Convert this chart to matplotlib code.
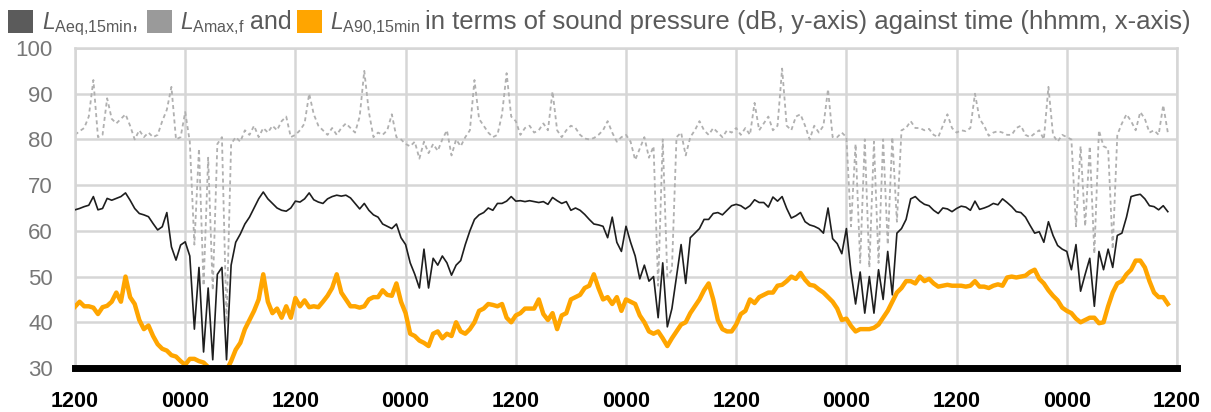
import numpy as np
import matplotlib
matplotlib.use("Agg")
import matplotlib.pyplot as plt
from matplotlib.patches import Rectangle

plt.rcParams['font.family'] = ['Liberation Sans', 'DejaVu Sans']
plt.rcParams['mathtext.fontset'] = 'custom'
plt.rcParams['mathtext.rm'] = 'Liberation Sans'
plt.rcParams['mathtext.it'] = 'Liberation Sans:italic'
plt.rcParams['mathtext.bf'] = 'Liberation Sans:bold'

# Half-hourly readings starting at 1200 (dB)
laeq = [64.6, 64.9, 65.3, 65.6, 67.5, 64.6, 64.9, 67.1, 66.7, 67.1, 67.5, 68.3, 66.7, 64.9, 63.8, 63.5, 63.1, 61.6, 60.2, 60.9, 64.0, 56.5, 53.6, 56.9, 57.6,
        54.5, 38.5, 52.0, 33.5, 47.5, 31.8, 50.5, 52.0, 31.8, 52.5, 57.5, 59.3, 61.5, 63.0, 65.0, 67.0, 68.5, 67.0, 66.0, 65.0, 64.5, 64.3, 65.0, 66.5,
        66.3, 67.0, 68.3, 66.8, 66.3, 66.0, 67.0, 67.5, 67.8, 67.6,
        67.8, 67.2, 66.0, 64.8, 66.0, 64.5, 63.5, 63.0, 61.5, 61.0,
        60.5, 61.5, 58.5, 57.0, 53.0, 50.5, 47.5, 56.0, 47.5, 54.0,
        52.5, 54.5, 53.0, 50.3, 52.5, 53.5, 57.0, 60.0, 62.5, 63.5,
        64.0, 65.0, 64.5, 66.0, 66.0, 66.5, 67.5, 66.5,
        66.6, 66.4, 66.6, 66.4, 66.2, 66.4, 65.8, 67.3, 66.6, 66.0,
        66.4, 64.5, 65.0, 64.5, 63.6, 62.5, 61.5, 61.3, 61.0, 58.5,
        63.0, 57.5, 55.5, 61.0, 57.5, 54.5, 49.5, 52.5, 49.0, 50.0,
        41.0, 53.0, 39.0, 43.0, 50.0, 57.0, 48.5, 58.5, 59.5, 60.5,
        62.5, 62.5, 63.8, 64.0, 63.5, 64.5, 65.5, 65.8,
        65.5, 64.8, 65.5, 66.8, 66.2, 66.2, 65.2, 67.4, 66.5, 67.5,
        64.9, 62.8, 63.3, 64.0, 62.0, 61.3, 61.0, 60.5, 59.5, 65.0,
        58.3, 57.2, 55.0, 60.5, 51.0, 44.0, 51.0, 42.0, 50.0, 42.0,
        51.5, 45.0, 55.5, 46.0, 59.5, 60.5, 62.5, 67.0, 67.5, 66.5,
        65.8, 65.5, 64.5, 63.8, 65.0, 64.8, 64.2, 64.9,
        65.4, 65.2, 64.5, 66.5, 64.7, 65.0, 65.4, 66.0, 65.7, 67.0,
        66.2, 65.3, 64.2, 64.0, 63.0, 61.2, 59.5, 59.8, 57.5, 62.0,
        59.0, 56.8, 56.0, 55.5, 51.5, 57.0, 46.8, 50.5, 54.0, 43.5,
        55.5, 51.5, 56.0, 52.0, 59.0, 59.5, 63.0, 67.5, 67.8, 68.0,
        67.0, 65.5, 65.3, 64.6, 65.5, 64.2]

lamax = [81.0, 81.8, 82.5, 85.0, 93.0, 80.5, 81.0, 89.0, 84.5, 83.5, 84.5, 85.5, 83.0, 80.0, 82.0, 80.5, 81.5, 80.5, 81.0, 84.0, 86.5, 91.5, 80.0, 80.5, 86.0,
         79.5, 57.0, 78.0, 48.0, 76.0, 47.0, 79.0, 80.5, 40.0, 79.0, 80.5, 79.5, 82.0, 81.0, 83.0, 80.5, 82.5, 81.5, 83.0, 82.0, 84.0, 85.0, 80.5, 81.0,
         82.0, 83.5, 90.0, 85.5, 83.0, 82.0, 81.0, 82.5, 81.0, 82.5,
         83.5, 82.5, 81.5, 85.0, 95.0, 86.0, 80.5, 81.5, 81.0, 82.0,
         85.5, 80.5, 80.0, 79.0, 78.5, 79.5, 75.8, 79.5, 77.0, 79.0,
         77.5, 80.0, 82.0, 76.5, 80.0, 78.5, 80.5, 82.0, 93.0, 84.5,
         83.0, 81.5, 80.5, 81.0, 85.5, 94.5, 85.0, 84.0,
         81.0, 82.5, 83.0, 81.5, 82.0, 83.5, 82.0, 90.5, 82.0, 80.5,
         82.0, 83.0, 82.5, 81.0, 80.2, 80.0, 80.3, 81.0, 82.0, 84.0,
         81.5, 79.5, 80.5, 81.0, 79.5, 75.5, 78.0, 80.5, 76.0, 78.5,
         48.0, 80.0, 50.0, 51.5, 80.5, 81.5, 76.5, 80.5, 82.0, 84.0,
         82.0, 81.0, 82.5, 81.5, 80.5, 82.0, 81.5, 82.5,
         81.0, 82.5, 81.0, 88.0, 82.0, 83.5, 85.0, 82.0, 83.0, 95.5,
         83.0, 82.0, 85.0, 85.5, 83.0, 80.0, 83.0, 81.5, 83.0, 91.0,
         80.5, 80.5, 81.5, 80.5, 61.0, 79.0, 53.0, 80.0, 52.0, 79.5,
         53.0, 80.0, 57.0, 80.5, 62.0, 82.0, 82.5, 84.0, 82.5, 82.5,
         82.0, 82.3, 81.0, 80.5, 83.0, 85.5, 82.5, 81.5,
         82.0, 81.8, 82.5, 90.0, 84.5, 83.0, 80.8, 81.5, 81.8, 81.5,
         81.0, 81.0, 82.5, 83.0, 81.0, 80.5, 81.3, 82.0, 80.0, 91.5,
         81.0, 79.5, 81.0, 80.5, 80.0, 61.0, 78.5, 61.0, 78.5, 55.0,
         82.0, 78.5, 78.0, 56.0, 81.0, 83.5, 85.5, 84.0, 82.0, 86.0,
         84.5, 81.5, 82.0, 81.0, 87.5, 81.5]

la90 = [43.4, 44.5, 43.5, 43.5, 43.2, 41.8, 43.3, 43.6, 44.5, 46.5, 44.5, 50.0, 45.5, 44.0, 40.5, 38.5, 39.3, 37.0, 35.2, 34.2, 33.8, 32.8, 32.5, 31.5, 30.7,
        32.0, 32.0, 31.5, 31.2, 30.2, 29.5, 29.5, 29.0, 29.5, 31.5, 34.0, 35.5, 38.5, 40.5, 42.5, 45.0, 50.5, 44.5, 42.0, 43.0, 41.0, 43.5, 41.0, 45.3,
        43.5, 44.8, 43.3, 43.5, 43.3, 44.5, 45.8, 47.5, 50.5, 46.5,
        45.0, 43.5, 43.5, 43.2, 43.5, 45.0, 45.5, 45.5, 47.0, 46.0,
        45.8, 48.5, 44.5, 42.0, 37.5, 37.0, 36.0, 35.5, 34.8, 37.5,
        38.0, 36.5, 37.5, 37.0, 40.0, 38.0, 37.5, 38.5, 40.0, 42.5,
        43.0, 44.0, 43.8, 43.5, 44.0, 41.0, 40.0, 41.5,
        42.0, 43.0, 43.0, 43.0, 45.0, 41.8, 40.5, 42.0, 38.5, 41.5,
        42.0, 45.0, 45.5, 46.0, 47.5, 48.0, 50.5, 47.5, 45.0, 45.5,
        44.0, 45.5, 42.5, 45.0, 44.5, 44.0, 41.5, 40.0, 38.0, 37.5,
        38.0, 36.5, 34.8, 36.5, 38.0, 39.5, 40.0, 42.0, 43.5, 45.0,
        47.0, 48.5, 45.0, 40.5, 38.5, 38.0, 38.0, 39.5,
        41.8, 42.5, 45.0, 44.2, 45.5, 46.0, 46.5, 46.5, 48.0, 48.2,
        49.0, 50.0, 49.5, 50.8, 49.3, 48.2, 48.0, 47.2, 46.5, 45.5,
        44.5, 43.0, 40.5, 40.8, 39.2, 38.0, 38.5, 38.5, 38.5, 38.8,
        39.5, 41.0, 42.5, 44.5, 46.5, 47.5, 49.0, 49.0, 48.5, 50.0,
        49.0, 49.5, 48.5, 47.8, 48.0, 48.2, 48.0, 48.0,
        48.0, 47.8, 48.0, 49.0, 47.8, 47.8, 47.5, 48.0, 48.3, 48.0,
        49.8, 50.0, 49.8, 50.0, 50.2, 51.0, 51.5, 49.5, 48.5, 47.0,
        45.8, 44.8, 43.2, 42.5, 42.0, 40.8, 40.0, 40.5, 41.0, 41.0,
        39.8, 40.0, 43.5, 46.5, 48.5, 49.0, 50.5, 51.5, 53.5, 53.5,
        52.0, 49.0, 46.5, 45.5, 45.5, 44.0]

tick_labels = ['1200', '0000', '1200', '0000', '1200', '0000',
               '1200', '0000', '1200', '0000', '1200']
y_ticks = [30, 40, 50, 60, 70, 80, 90, 100]

W, H = 1211, 412
fig = plt.figure(figsize=(W / 100, H / 100), dpi=100)
ax = fig.add_axes([75 / W, 1 - 368 / H, (1177 - 75) / W, (368 - 48) / H])

hours = np.arange(len(laeq)) * 0.5

ax.plot(hours, lamax, color='#b0b0b0', lw=1.3, linestyle=(0, (2.2, 1.8)), zorder=2)
ax.plot(hours, laeq, color='#1e1e1e', lw=1.2, zorder=3)
ax.plot(hours, la90, color='#ffa500', lw=3.2, zorder=4, solid_joinstyle='round')

ax.set_xlim(0, 120)
ax.set_ylim(30, 100)
ax.set_xticks(np.arange(0, 121, 12))
ax.set_xticklabels(tick_labels, fontsize=15.5, fontweight='bold', color='black')
ax.set_yticks(y_ticks)
ax.set_yticklabels([str(v) for v in y_ticks], fontsize=16, color='#777777')
ax.tick_params(axis='both', length=0)
ax.tick_params(axis='y', pad=16)
ax.tick_params(axis='x', pad=16.5)
ax.grid(True, color='#d6d6d6', lw=1.8, zorder=0)
ax.set_axisbelow(True)
for s in ['left', 'top', 'right']:
    ax.spines[s].set_color('#d6d6d6')
    ax.spines[s].set_linewidth(1.8)
ax.spines['bottom'].set_color('black')
ax.spines['bottom'].set_linewidth(5)
ax.spines['bottom'].set_zorder(6)

# title with coloured keys
title_color = '#5a5a5a'
keys = [(8, '#5b5b5b'), (147, '#9a9a9a'), (297, '#ffa500')]
for kx, kc in keys:
    fig.patches.append(Rectangle((kx / W, 1 - 33 / H), 25 / W, 23 / H,
                                 transform=fig.transFigure, color=kc, lw=0))
base_y = 1 - 29 / H
fig.text(42 / W, base_y, r'$L_{\mathrm{Aeq{,}15min}}$,', fontsize=16.5, color=title_color, va='baseline')
fig.text(180 / W, base_y, r'$L_{\mathrm{Amax{,}f}}$', fontsize=16.5, color=title_color, va='baseline')
fig.text(250 / W, base_y, 'and', fontsize=18, color=title_color, va='baseline')
fig.text(330 / W, base_y, r'$L_{\mathrm{A90{,}15min}}$', fontsize=16.5, color=title_color, va='baseline')
fig.text(425 / W, base_y, 'in terms of sound pressure (dB, y-axis) against time (hhmm, x-axis)',
         fontsize=18.5, color=title_color, va='baseline')

fig.savefig('out.png', dpi=100)
